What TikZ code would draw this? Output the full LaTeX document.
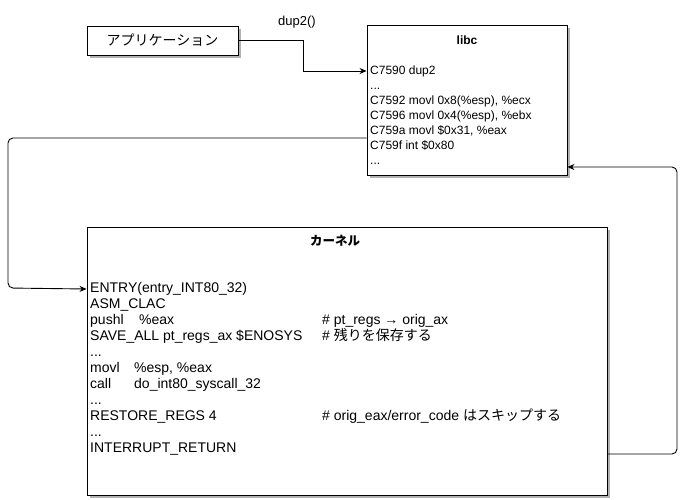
\documentclass[tikz,border=0pt]{standalone}
\usepackage{fontspec}
\setmainfont{Liberation Sans}
\newfontfamily\jp{Noto Sans CJK JP}
\usetikzlibrary{arrows.meta,calc,backgrounds}

\begin{document}
\begin{tikzpicture}[x=1pt,y=-1pt,
  >={Stealth[length=7pt,width=6pt]},
  blk/.style={draw, line width=0.9pt, fill=white, inner sep=0pt},
  shd/.style={fill=black!30},
  ln/.style={anchor=west, inner sep=0pt, text height=9pt, text depth=3pt, font=\fontsize{12}{14}\selectfont},
  kl/.style={anchor=west, inner sep=0pt, text height=10pt, text depth=3pt, font=\fontsize{14}{16}\selectfont},
  ttl/.style={inner sep=0pt, font=\bfseries\fontsize{12}{14}\selectfont},
  conn/.style={->, line width=0.9pt},
  jump/.style={->, line width=0.9pt, rounded corners=5pt},
]
\useasboundingbox (0,0) rectangle (686,499);
% shadows
\fill[shd] (90,29) rectangle (241,58);
\fill[shd] (370,28) rectangle (570,178);
\fill[shd] (90,230) rectangle (610,498);
% boxes
\node[blk, minimum width=151pt, minimum height=29pt, font=\jp\fontsize{14}{16}\selectfont] (app) at (162.5,40.5) {アプリケーション};
\node[blk, minimum width=200pt, minimum height=150pt] (libc) at (467,100) {};
\node[blk, minimum width=520pt, minimum height=268pt] (kernel) at (347,361) {};
% libc listing
\node[ttl] (ltitle) at (467,40) {libc};
\node[ln] (l1) at (370,71)  {C7590 dup2};
\node[ln] (l2) at (370,86)  {...};
\node[ln] (l3) at (370,101) {C7592 movl 0x8(\%esp), \%ecx};
\node[ln] (l4) at (370,116) {C7596 movl 0x4(\%esp), \%ebx};
\node[ln] (l5) at (370,131) {C759a movl \$0x31, \%eax};
\node[ln] (l6) at (370,146) {C759f int \$0x80};
\node[ln] (l7) at (370,161) {...};
% kernel listing
\node[ttl, font=\jp\bfseries\fontsize{12.5}{14}\selectfont] (ktitle) at (335,241) {カーネル};
\node[kl] (k1)  at (90,289) {ENTRY(entry\_INT80\_32)};
\node[kl] (k2)  at (90,305) {ASM\_CLAC};
\node[kl] (k3)  at (90,321) {\makebox[49pt][l]{pushl}\%eax};
\node[kl] (k4)  at (90,337) {SAVE\_ALL pt\_regs\_ax \$ENOSYS};
\node[kl] (k5)  at (90,353) {...};
\node[kl] (k6)  at (90,369) {\makebox[44pt][l]{movl}\%esp, \%eax};
\node[kl] (k7)  at (90,385) {\makebox[44pt][l]{call}do\_int80\_syscall\_32};
\node[kl] (k8)  at (90,401) {...};
\node[kl] (k9)  at (90,417) {RESTORE\_REGS 4};
\node[kl] (k10) at (90,433) {...};
\node[kl] (k11) at (90,449) {INTERRUPT\_RETURN};
\node[kl] (c3)  at (322,321) {\# pt\_regs → orig\_ax};
\node[kl] (c4)  at (322,337) {\# {\jp 残りを保存する}};
\node[kl] (c9)  at (322,417) {\# orig\_eax/error\_code {\jp はスキップする}};
% connectors
\node[ln, anchor=center, font=\fontsize{13}{15}\selectfont] (call) at (297,22) {dup2()};
\draw[conn] (app.east) -- ++(65,0) |- (libc.west |- l1);
\draw[jump] (libc.west |- 0,138) -- (8,138) -- (8,288) -- (kernel.west |- k1);
\draw[jump] (kernel.east |- 0,454) -- (677,454) -- (677,167) -- (libc.east |- 0,167);
\end{tikzpicture}
\end{document}
